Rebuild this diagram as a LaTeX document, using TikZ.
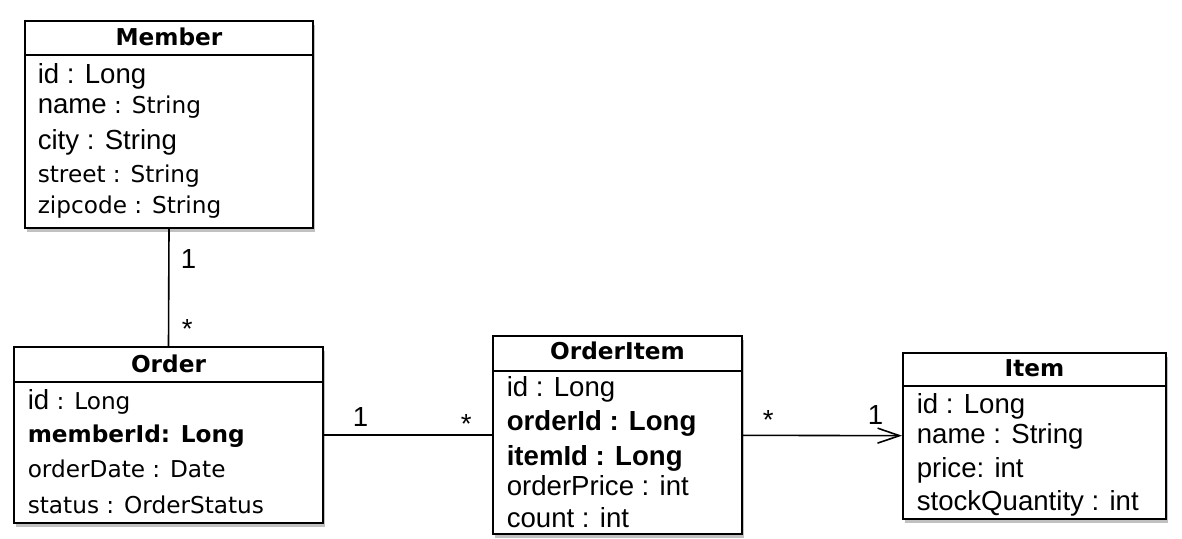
\documentclass[tikz,border=0pt]{standalone}
\usepackage{fontspec}
\setmainfont{Liberation Sans}
\newfontfamily\gothfont{DejaVu Sans}
\usetikzlibrary{arrows.meta, fit, shadows}
\newcommand{\hv}{\fontsize{13.8}{16}\selectfont}
\newcommand{\nf}{\gothfont\fontsize{11.6}{14}\selectfont}
\newcommand{\hf}{\gothfont\fontsize{11.6}{14}\selectfont}

\begin{document}
\begin{tikzpicture}[x=0.5pt, y=-0.5pt, line width=0.8pt,
  cls/.style={draw, line width=1pt, fill=white, inner sep=0pt,
    drop shadow={shadow xshift=1pt, shadow yshift=-2pt, opacity=0.35, fill=black!70}},
  row/.style={anchor=base west, inner sep=0pt, font=\hv},
  nrow/.style={anchor=base west, inner sep=0pt, font=\nf},
  head/.style={anchor=base, inner sep=0pt, font=\hf\bfseries},
  mult/.style={anchor=base west, inner sep=0pt, font=\hv}]
  \useasboundingbox (0,0) rectangle (1182,538);

  % class boxes
  \node[cls, fit={(25,21) (313,228)}] (member) {};
  \node[cls, fit={(14,347) (323,523)}] (order) {};
  \node[cls, fit={(493,336) (742,534)}] (orderitem) {};
  \node[cls, fit={(903,353) (1166,519)}] (item) {};
  \foreach \c/\h in {member/17.5, order/18, orderitem/18, item/17}
    \draw[line width=1pt] ([yshift=-\h pt]\c.north west) -- ([yshift=-\h pt]\c.north east);

  % Member
  \node[head] (mh) at (169,45) {Member};
  \node[row] (m1) at (37,83) {id : Long};
  \node[row] (m2) at (37,113) {name{\nf\ : String}};
  \node[row] (m3) at (37,149) {city : String};
  \node[nrow] (m4) at (37,182) {street : String};
  \node[nrow] (m5) at (37,213) {zipcode : String};

  % Order
  \node[head] (oh) at (168.5,372) {Order};
  \node[row] (o1) at (27,409) {id{\nf\ : Long}};
  \node[nrow, font=\nf\bfseries] (o2) at (27,442) {memberId: Long};
  \node[nrow] (o3) at (27,477) {orderDate : Date};
  \node[nrow] (o4) at (27,513) {status : OrderStatus};

  % OrderItem
  \node[head] (ih) at (617.5,359) {OrderItem};
  \node[row] (i1) at (506,396) {id : Long};
  \node[row, font=\hv\bfseries] (i2) at (506,430) {orderId : Long};
  \node[row, font=\hv\bfseries] (i3) at (506,465) {itemId : Long};
  \node[row] (i4) at (506,495) {orderPrice : int};
  \node[row] (i5) at (506,527) {count : int};

  % Item
  \node[head] (th) at (1034.5,376) {Item};
  \node[row] (t1) at (916,413) {id : Long};
  \node[row] (t2) at (916,443) {name : String};
  \node[row] (t3) at (916,477) {price: int};
  \node[row] (t4) at (916,510) {stockQuantity : int};

  % associations
  \draw (member.south) -- (order.north);
  \draw (order) -- (orderitem);
  \draw[-{Straight Barb[length=11pt, width=7.5pt]}] (orderitem) -- (item);
  \node[mult] (mo1) at (180,268) {1};
  \node[mult] (mo2) at (181,338) {*};
  \node[mult] (oi1) at (352,426) {1};
  \node[mult] (oi2) at (460,433) {*};
  \node[mult] (it1) at (762,429) {*};
  \node[mult] (it2) at (867,424) {1};
\end{tikzpicture}
\end{document}
